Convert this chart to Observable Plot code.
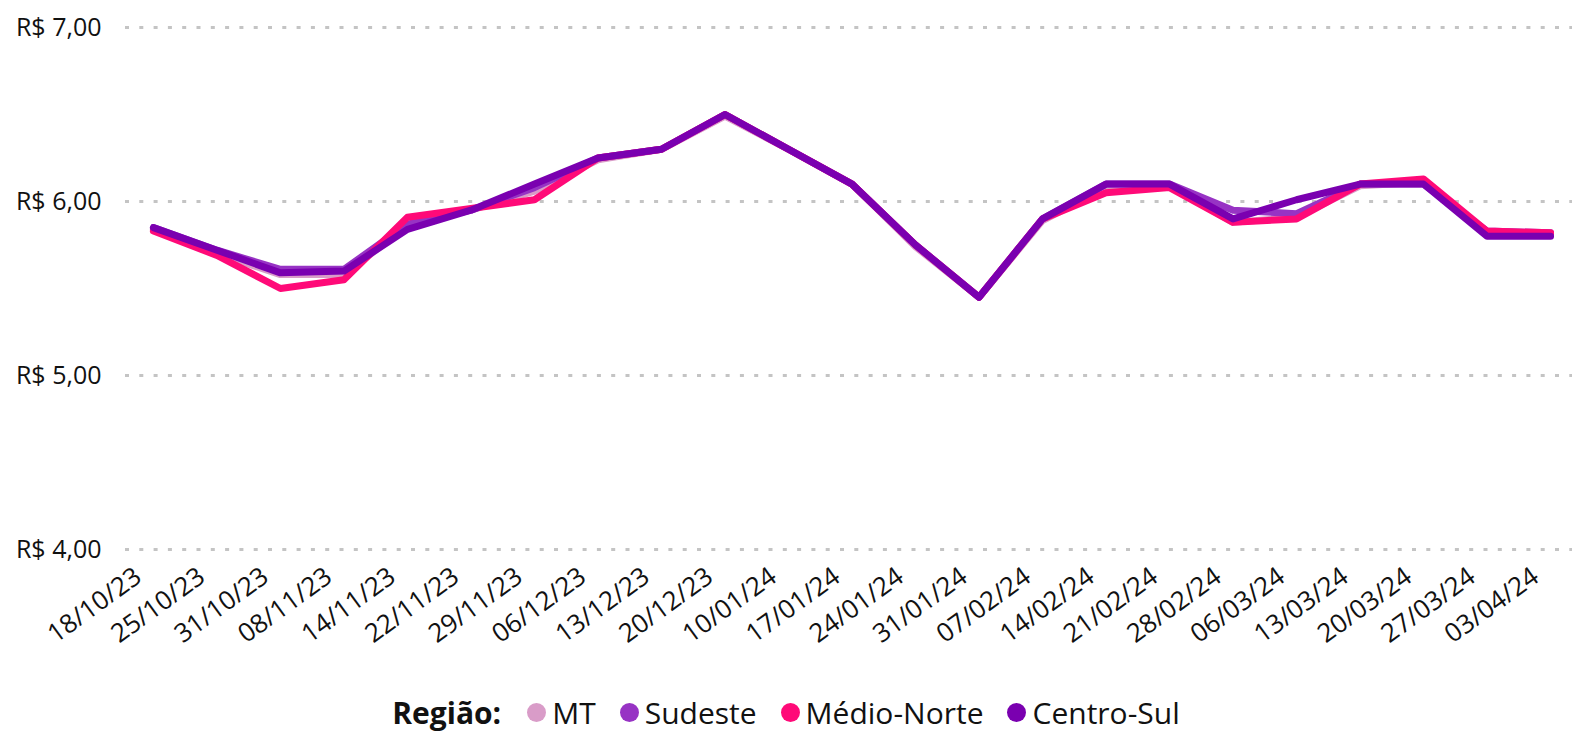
<!DOCTYPE html>
<html>
<head>
<meta charset="utf-8">
<script src="https://cdn.jsdelivr.net/npm/d3@7"></script>
<script src="https://cdn.jsdelivr.net/npm/@observablehq/plot@0.6"></script>
<style>
  html, body { margin: 0; padding: 0; background: #fff; }
  body { width: 1572px; height: 731px; overflow: hidden; font-family: "Open Sans", sans-serif; }
  #legend { display: flex; justify-content: center; align-items: center; height: 37px; font-size: 30px; color: #111; white-space: nowrap; }
  #legend .title { font-weight: 700; margin-right: 26px; }
  #legend .item { display: flex; align-items: center; margin-right: 24px; }
  #legend .item:last-child { margin-right: 0; }
  #legend .sw { width: 19px; height: 19px; border-radius: 50%; display: inline-block; margin-right: 6px; }
</style>
</head>
<body>
<div id="chart"></div>
<div id="legend"></div>
<script>
const dates = ["18/10/23","25/10/23","31/10/23","08/11/23","14/11/23","22/11/23","29/11/23","06/12/23","13/12/23","20/12/23","10/01/24","17/01/24","24/01/24","31/01/24","07/02/24","14/02/24","21/02/24","28/02/24","06/03/24","13/03/24","20/03/24","27/03/24","03/04/24"];
const regions = ["MT","Sudeste","Médio-Norte","Centro-Sul"];
const colors = ["#D99CC8","#9733C4","#FF0A78","#7A00B0"];
const mt =         [5.84,5.70,5.58,5.58,5.86,5.95,6.06,6.24,6.30,6.49,6.30,6.10,5.74,5.45,5.89,6.08,6.09,5.88,5.91,6.09,6.11,5.82,5.81];
const sudeste =    [5.85,5.72,5.61,5.61,5.87,5.95,6.08,6.25,6.30,6.50,6.30,6.10,5.75,5.45,5.90,6.10,6.10,5.95,5.93,6.10,6.10,5.83,5.82];
const medioNorte = [5.83,5.69,5.50,5.55,5.91,5.96,6.01,6.25,6.30,6.50,6.30,6.10,5.75,5.45,5.90,6.05,6.08,5.88,5.90,6.10,6.13,5.83,5.82];
const centroSul =  [5.85,5.72,5.59,5.60,5.84,5.95,6.10,6.25,6.30,6.50,6.30,6.10,5.75,5.45,5.90,6.10,6.10,5.90,6.01,6.10,6.10,5.80,5.80];
const yTicks = [4,5,6,7];

const seriesValues = [mt, sudeste, medioNorte, centroSul];
const data = [];
regions.forEach((r, k) => seriesValues[k].forEach((v, i) => data.push({date: dates[i], value: v, region: r})));

const fmt = d => "R$ " + d.toFixed(2).replace(".", ",");

const chart = Plot.plot({
  width: 1572,
  height: 694,
  marginLeft: 125,
  marginRight: -6,
  marginTop: 27,
  marginBottom: 145,
  style: {fontFamily: "Open Sans, sans-serif", fontSize: "24px", color: "#111", background: "#fff"},
  x: {type: "point", domain: dates, padding: 0.44, round: false, label: null},
  y: {domain: [4, 7], label: null},
  color: {domain: regions, range: colors},
  marks: [
    Plot.ruleY(yTicks, {stroke: "#c4c4c4", strokeWidth: 3, strokeDasharray: "4,10.3"}),
    Plot.axisY(yTicks, {tickSize: 0, tickPadding: 24, tickFormat: fmt, fontSize: 25, label: null}),
    Plot.axisX(dates, {tickSize: 0, tickPadding: 24, tickRotate: -36, fontSize: 26, dx: -15, label: null}),
    Plot.line(data, {x: "date", y: "value", z: "region", stroke: "region", strokeWidth: 7, strokeLinecap: "round", strokeLinejoin: "round"})
  ]
});
document.getElementById("chart").appendChild(chart);

const legend = document.getElementById("legend");
const t = document.createElement("span");
t.className = "title";
t.textContent = "Região:";
legend.appendChild(t);
regions.forEach((r, i) => {
  const it = document.createElement("span");
  it.className = "item";
  const sw = document.createElement("span");
  sw.className = "sw";
  sw.style.background = colors[i];
  const lb = document.createElement("span");
  lb.textContent = r;
  it.appendChild(sw);
  it.appendChild(lb);
  legend.appendChild(it);
});
</script>
</body>
</html>
